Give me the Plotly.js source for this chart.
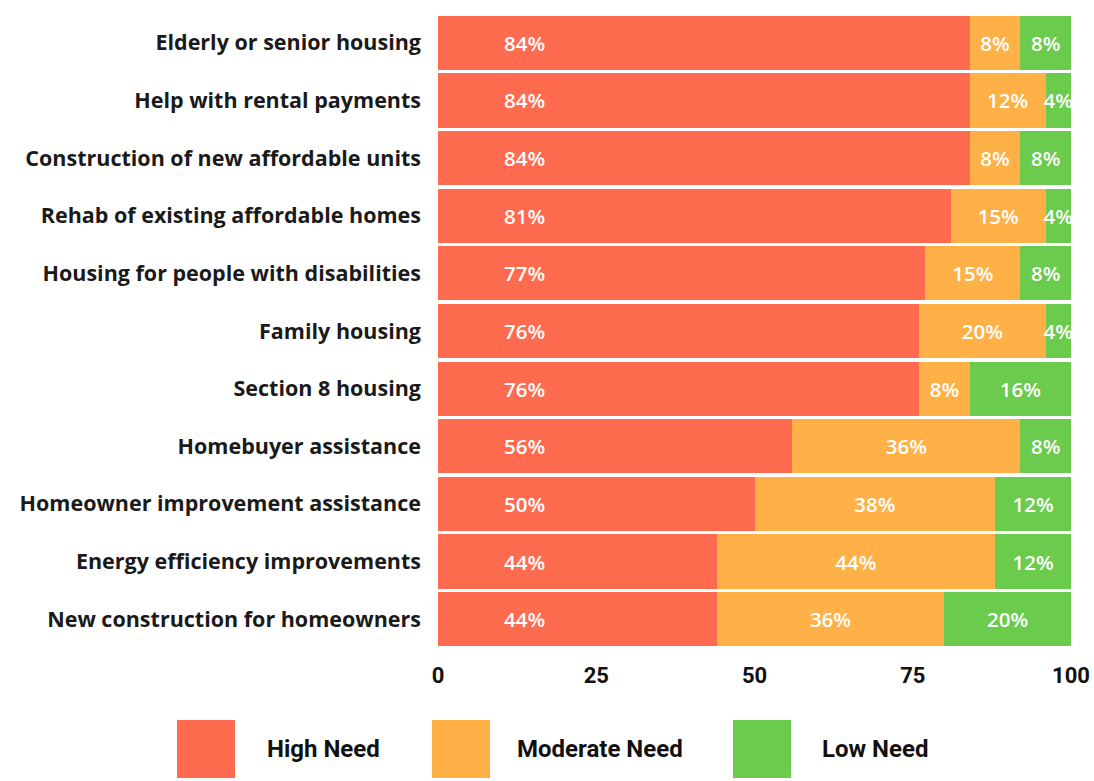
<!DOCTYPE html>
<html><head><meta charset="utf-8">
<script src="https://cdn.plot.ly/plotly-3.0.1.min.js"></script>
<style>html,body{margin:0;padding:0;background:#fff;}#chart{width:1094px;height:781px;}</style>
</head><body><div id="chart"></div>
<script>
const categories = [
  "Elderly or senior housing",
  "Help with rental payments",
  "Construction of new affordable units",
  "Rehab of existing affordable homes",
  "Housing for people with disabilities",
  "Family housing",
  "Section 8 housing",
  "Homebuyer assistance",
  "Homeowner improvement assistance",
  "Energy efficiency improvements",
  "New construction for homeowners"
];
const seriesNames = ["High Need", "Moderate Need", "Low Need"];
const highNeed     = [84, 84, 84, 81, 77, 76, 76, 56, 50, 44, 44];
const moderateNeed = [8, 12, 8, 15, 15, 20, 8, 36, 38, 44, 36];
const lowNeed      = [8, 4, 8, 4, 8, 4, 16, 8, 12, 12, 20];
const colors = ["#FF6B4F", "#FFB147", "#6BCB4D"];
const xTicks = [0, 25, 50, 75, 100];

const W = 1094, H = 781;
const L = 438, R = 23, T = 14, B = 133;
const pw = W - L - R, ph = H - T - B;
const px = x => (x - L) / pw;
const py = y => (H - B - y) / ph;

const labelFont = { family: "Open Sans, sans-serif", size: 20.5, color: "#ffffff", weight: 600 };

const series = [highNeed, moderateNeed, lowNeed];
const traces = series.map((vals, i) => ({
  type: "bar",
  orientation: "h",
  name: seriesNames[i],
  y: categories,
  x: vals,
  marker: { color: colors[i], line: { width: 0 } },
  text: i === 0 ? undefined : vals.map(v => v + "%"),
  textposition: i === 0 ? "none" : "inside",
  insidetextanchor: "middle",
  textangle: 0,
  constraintext: "none",
  cliponaxis: false,
  textfont: labelFont,
  insidetextfont: labelFont,
  hoverinfo: "skip"
}));

const annotations = highNeed.map((v, i) => ({
  x: 13.7, y: categories[i], xref: "x", yref: "y",
  text: v + "%", showarrow: false,
  font: labelFont
}));

const legendSw = [177, 432, 733];
const legendTx = [265, 515, 820];
const shapes = [];
seriesNames.forEach((n, i) => {
  shapes.push({
    type: "rect", xref: "paper", yref: "paper",
    x0: px(legendSw[i]), x1: px(legendSw[i] + 58),
    y0: py(778), y1: py(720),
    fillcolor: colors[i], line: { width: 0 }
  });
  annotations.push({
    xref: "paper", yref: "paper", x: px(legendTx[i]), y: py(749),
    xanchor: "left", yanchor: "middle", showarrow: false, text: n,
    font: { family: "Liberation Sans Narrow, Roboto, sans-serif", size: 24, color: "#111111", weight: 700 }
  });
});

const layout = {
  width: W, height: H,
  margin: { l: L, r: R, t: T, b: B, pad: 0 },
  barmode: "stack",
  bargap: 0.06,
  showlegend: false,
  paper_bgcolor: "#ffffff",
  plot_bgcolor: "#ffffff",
  xaxis: {
    range: [0, 100], tickvals: xTicks, ticktext: xTicks.map(String),
    showgrid: false, zeroline: false, showline: false, ticks: "",
    tickfont: { family: "Liberation Sans Narrow, Roboto, sans-serif", size: 22, color: "#111111", weight: 700 },
    ticklabelstandoff: 12, fixedrange: true
  },
  yaxis: {
    autorange: "reversed", type: "category",
    showgrid: false, zeroline: false, showline: false, ticks: "",
    tickfont: { family: "Open Sans, sans-serif", size: 21.5, color: "#1a1a1a", weight: 700 },
    ticklabelstandoff: 16, fixedrange: true
  },
  annotations: annotations,
  shapes: shapes
};

Plotly.newPlot("chart", traces, layout, { displayModeBar: false, staticPlot: true });
</script></body></html>
